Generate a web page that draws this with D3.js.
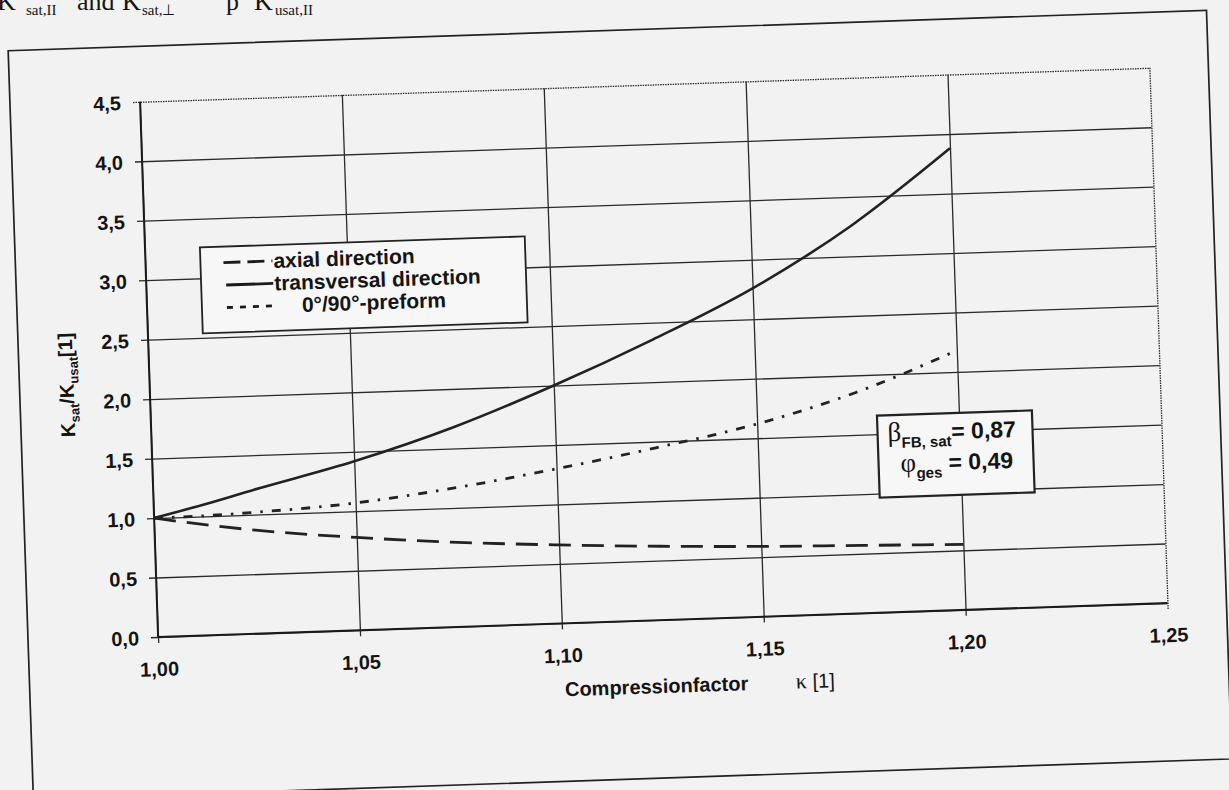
<!DOCTYPE html>
<html>
<head>
<meta charset="utf-8">
<script src="https://cdn.jsdelivr.net/npm/d3@7"></script>
<style>
  html, body { margin: 0; padding: 0; background: #f2f2f2; }
  svg { display: block; }
  text { font-family: "Liberation Sans", Arial, sans-serif; font-weight: bold; fill: #141414; }
</style>
</head>
<body>
<div class="canvas"></div>
<script>
// values
const kappa = [1.00, 1.0125, 1.025, 1.05, 1.075, 1.10, 1.125, 1.15, 1.175, 1.20];
const axial = [1.00, 0.93, 0.87, 0.78, 0.71, 0.66, 0.62, 0.59, 0.57, 0.55];
const transversal = [1.00, 1.10, 1.21, 1.42, 1.68, 2.00, 2.36, 2.76, 3.26, 3.88];
const preform = [1.00, 1.005, 1.02, 1.07, 1.17, 1.30, 1.45, 1.62, 1.86, 2.18];

const xTicks = [1.00, 1.05, 1.10, 1.15, 1.20, 1.25];
const xTickLabels = ["1,00", "1,05", "1,10", "1,15", "1,20", "1,25"];
const yTicks = [0, 0.5, 1.0, 1.5, 2.0, 2.5, 3.0, 3.5, 4.0, 4.5];
const yTickLabels = ["0,0", "0,5", "1,0", "1,5", "2,0", "2,5", "3,0", "3,5", "4,0", "4,5"];

const seriesNames = ["axial direction", "transversal direction", "0°/90°-preform"];
const annotation = [
    { sym: "β", sub: "FB, sat", val: "= 0,87" },
    { sym: "φ", sub: "ges", val: " = 0,49" },
];

const dims = { width: 1229, height: 790, plotW: 1010, plotH: 535.5 };
const origin = { x: 158, y: 637, angle: -1.93 };

const svg = d3
    .select(".canvas")
    .append("svg")
    .attr("width", dims.width)
    .attr("height", dims.height);

// page text above the figure, cut at the top of the scan
const headParts = [
    { x: -3, text: "K", sub: false },
    { x: 26, text: "sat,II", sub: true },
    { x: 77, text: "and", sub: false },
    { x: 122, text: "K", sub: false },
    { x: 142, text: "sat,⊥", sub: true },
    { x: 226, text: "p", sub: false },
    { x: 254, text: "K", sub: false },
    { x: 275, text: "usat,II", sub: true },
];
svg.selectAll("text.head")
    .data(headParts)
    .enter()
    .append("text")
    .attr("class", "head")
    .attr("x", (d) => d.x)
    .attr("y", (d) => (d.sub ? 15 : 10))
    .style("font-family", "'Liberation Serif', serif")
    .style("font-weight", "normal")
    .style("font-size", (d) => (d.sub ? "15px" : "26px"))
    .text((d) => d.text);

// the whole figure is slightly rotated in the scan
const fig = svg
    .append("g")
    .attr("transform", `translate(${origin.x},${origin.y}) rotate(${origin.angle})`);

fig.append("rect")
    .attr("x", -130)
    .attr("y", -591)
    .attr("width", 1199)
    .attr("height", 749)
    .attr("fill", "none")
    .attr("stroke", "#222")
    .attr("stroke-width", 1.7);

const x = d3.scaleLinear().domain([1.0, 1.25]).range([0, dims.plotW]);
const y = d3.scaleLinear().domain([0, 4.5]).range([0, -dims.plotH]);

// y grid + labels
const yAxis = d3
    .axisLeft(y)
    .tickValues(yTicks)
    .tickFormat((d, i) => yTickLabels[i])
    .tickSizeInner(-dims.plotW)
    .tickSizeOuter(0)
    .tickPadding(19);

const gy = fig.append("g").call(yAxis);
gy.select(".domain").remove();
gy.selectAll(".tick line")
    .attr("x1", -7)
    .attr("stroke", "#2a2a2a")
    .attr("stroke-width", 1.3)
    .attr("stroke-dasharray", (d) => (d === 4.5 ? "1.5,1" : null));
gy.selectAll(".tick text")
    .style("font-size", "20px")
    .attr("dy", "0.36em")
    .style("font-family", "'Liberation Sans', Arial, sans-serif");

// x grid + labels
const xAxis = d3
    .axisBottom(x)
    .tickValues(xTicks)
    .tickFormat((d, i) => xTickLabels[i])
    .tickSizeInner(-dims.plotH)
    .tickSizeOuter(0)
    .tickPadding(25);

const gx = fig.append("g").call(xAxis);
gx.select(".domain").remove();
gx.selectAll(".tick line")
    .attr("y1", 6)
    .attr("stroke", "#2a2a2a")
    .attr("stroke-width", 1.3)
    .attr("stroke-dasharray", (d) => (d === 1.25 ? "1.5,1" : null));
gx.selectAll(".tick text")
    .style("font-size", "20px")
    .style("font-family", "'Liberation Sans', Arial, sans-serif");

// axis lines
fig.append("line")
    .attr("x1", x(1.0)).attr("x2", x(1.0))
    .attr("y1", y(0)).attr("y2", y(4.5))
    .attr("stroke", "#1a1a1a").attr("stroke-width", 1.8);
fig.append("line")
    .attr("x1", x(1.0)).attr("x2", x(1.25))
    .attr("y1", y(0)).attr("y2", y(0))
    .attr("stroke", "#1a1a1a").attr("stroke-width", 1.8);

// curves
const lineGen = (vals) =>
    d3
        .line()
        .x((d, i) => x(kappa[i]))
        .y((d) => y(d))
        .curve(d3.curveMonotoneX)(vals);

const styles = [
    { dash: "22,11", width: 2.8 },
    { dash: null, width: 2.6 },
    { dash: "9,9,2.5,9", width: 2.8 },
];
const series = [axial, transversal, preform];

fig.selectAll("path.curve")
    .data(series)
    .enter()
    .append("path")
    .attr("class", "curve")
    .attr("d", (d) => lineGen(d))
    .attr("fill", "none")
    .attr("stroke", "#222")
    .attr("stroke-width", (d, i) => styles[i].width)
    .attr("stroke-dasharray", (d, i) => styles[i].dash);

// legend
const legendGroup = fig.append("g").attr("transform", "translate(55,-388)");
legendGroup
    .append("rect")
    .attr("width", 325)
    .attr("height", 86)
    .attr("fill", "#f7f7f7")
    .attr("stroke", "#222")
    .attr("stroke-width", 1.8);

const legendDash = ["17,7", null, "6,7"];
const rows = legendGroup
    .selectAll("g.row")
    .data(seriesNames)
    .enter()
    .append("g")
    .attr("class", "row")
    .attr("transform", (d, i) => `translate(0,${23 + i * 22.5})`);

rows.append("line")
    .attr("x1", (d, i) => (i === 0 ? 23 : 25))
    .attr("x2", (d, i) => (i === 2 ? 70 : 72))
    .attr("y1", -7)
    .attr("y2", -7)
    .attr("stroke", "#1a1a1a")
    .attr("stroke-width", 2.8)
    .attr("stroke-dasharray", (d, i) => legendDash[i]);

rows.append("text")
    .attr("x", (d, i) => (i === 2 ? 100 : 73))
    .attr("y", 0)
    .style("font-size", "21px")
    .text((d) => d);

// parameter box
const note = fig.append("g").attr("transform", "translate(726,-197)");
note.append("rect")
    .attr("width", 155)
    .attr("height", 82)
    .attr("fill", "#f7f7f7")
    .attr("stroke", "#222")
    .attr("stroke-width", 2.2);

note.selectAll("text")
    .data(annotation)
    .enter()
    .append("text")
    .attr("x", (d, i) => (i === 0 ? 10 : 22))
    .attr("y", (d, i) => 26 + i * 31)
    .each(function (d) {
        const t = d3.select(this);
        t.append("tspan")
            .style("font-family", "'Liberation Serif', serif")
            .style("font-weight", "normal")
            .style("font-size", "27px")
            .text(d.sym);
        t.append("tspan").attr("dy", 7).style("font-size", "15px").text(d.sub);
        t.append("tspan").attr("dy", -7).style("font-size", "23px").text(d.val);
    });

// axis titles
const xTitle = fig.append("text").attr("x", 405).attr("y", 73).style("font-size", "20px");
xTitle.append("tspan").text("Compressionfactor");
xTitle.append("tspan")
    .attr("x", 636)
    .style("font-family", "'Liberation Serif', serif")
    .style("font-weight", "normal")
    .style("font-size", "22px")
    .text("κ");
xTitle.append("tspan").style("font-weight", "normal").text(" [1]");

const yTitle = fig
    .append("text")
    .attr("transform", "translate(-76,-255) rotate(-90)")
    .attr("text-anchor", "middle")
    .style("font-size", "20px");
yTitle.append("tspan").text("K");
yTitle.append("tspan").attr("dy", 5).style("font-size", "13px").text("sat");
yTitle.append("tspan").attr("dy", -5).text("/K");
yTitle.append("tspan").attr("dy", 5).style("font-size", "13px").text("usat");
yTitle.append("tspan").attr("dy", -5).text("[1]");
</script>
</body>
</html>
